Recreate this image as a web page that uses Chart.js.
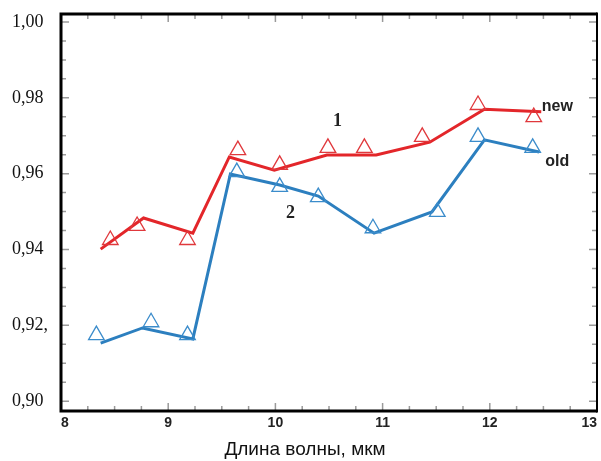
<!DOCTYPE html>
<html lang="ru">
<head>
  <meta charset="UTF-8">
  <title>Длина волны</title>
  <script src="https://cdn.jsdelivr.net/npm/chart.js"></script>
  <style>
    body { margin: 0; background: #fff; }
    canvas { display: block; }
  </style>
</head>
<body>
  <canvas id="chart" width="601" height="461"></canvas>
  <script>
    // данные
    const newLineX = [8.37, 8.77, 9.23, 9.57, 9.99, 10.48, 10.94, 11.44, 11.95, 12.48];
    const newLineY = [0.9401, 0.9483, 0.9443, 0.9644, 0.9609, 0.9649, 0.9649, 0.9683, 0.9770, 0.9763];
    const newMarkX = [8.46, 8.71, 9.18, 9.65, 10.04, 10.49, 10.83, 11.37, 11.89, 12.41];
    const newMarkY = [0.9425, 0.9462, 0.9425, 0.9662, 0.9623, 0.9668, 0.9668, 0.9697, 0.9781, 0.9749];
    const oldLineX = [8.37, 8.76, 9.23, 9.58, 10.04, 10.40, 10.92, 11.46, 11.95, 12.46];
    const oldLineY = [0.9153, 0.9193, 0.9164, 0.9599, 0.9570, 0.9541, 0.9443, 0.9499, 0.9689, 0.9657];
    const oldMarkX = [8.33, 8.84, 9.18, 9.64, 10.04, 10.40, 10.91, 11.51, 11.89, 12.40];
    const oldMarkY = [0.9174, 0.9208, 0.9174, 0.9604, 0.9565, 0.9538, 0.9456, 0.9499, 0.9697, 0.9668];
    const yTickValues = [0.90, 0.92, 0.94, 0.96, 0.98, 1.00];
    const yTickLabels = ['0,90', '0,92,', '0,94', '0,96', '0,98', '1,00'];
    const xTickLabels = ['8', '9', '10', '11', '12', '13'];
    const xTitle = 'Длина волны, мкм';

    const pts = (xs, ys) => xs.map((x, i) => ({ x: x, y: ys[i] }));

    const RED = '#e3262a';
    const BLUE = '#2c7fbf';

    // рамка, внутренние риски и подписи на поле графика
    const framePlugin = {
      id: 'frame',
      afterDraw(chart) {
        const c = chart.ctx;
        const a = chart.chartArea;
        const xs = chart.scales.x, ys = chart.scales.y;
        c.save();
        c.strokeStyle = '#9a9a9a';
        c.lineWidth = 1.5;
        for (let v = 8.25; v < 13; v += 0.25) {
          const px = xs.getPixelForValue(v);
          const len = Math.abs(v - Math.round(v)) < 1e-6 ? 8 : 5;
          c.beginPath();
          c.moveTo(px, a.bottom); c.lineTo(px, a.bottom - len);
          c.moveTo(px, a.top); c.lineTo(px, a.top + len);
          c.stroke();
        }
        for (let i = 0; i <= 20; i++) {
          const v = 0.90 + i * 0.005;
          const py = ys.getPixelForValue(v);
          const len = i % 4 === 0 ? 8 : 5;
          c.beginPath();
          c.moveTo(a.left, py); c.lineTo(a.left + len, py);
          c.moveTo(a.right, py); c.lineTo(a.right - len, py);
          c.stroke();
        }
        c.strokeStyle = '#000';
        c.lineWidth = 3;
        c.beginPath();
        c.moveTo(a.right, a.top); c.lineTo(a.left, a.top);
        c.lineTo(a.left, a.bottom); c.lineTo(a.right, a.bottom);
        c.stroke();
        c.lineWidth = 2;
        c.beginPath();
        c.moveTo(a.right, a.top - 1.5); c.lineTo(a.right, a.bottom + 1.5);
        c.stroke();

        c.fillStyle = '#222';
        c.textAlign = 'center';
        c.textBaseline = 'middle';
        c.font = 'bold 18px "Liberation Serif"';
        c.fillText('1', xs.getPixelForValue(10.58), ys.getPixelForValue(0.9739));
        c.fillText('2', xs.getPixelForValue(10.14), ys.getPixelForValue(0.9496));
        c.font = 'bold 16px "Liberation Sans"';
        c.fillText('new', xs.getPixelForValue(12.63), ys.getPixelForValue(0.9776));
        c.fillText('old', xs.getPixelForValue(12.63), ys.getPixelForValue(0.9633));

        // подпись оси X (смещена влево, как на оригинале)
        c.fillStyle = '#111';
        c.font = '19px "Liberation Sans"';
        c.fillText(xTitle, 305, 450);
        c.restore();
      }
    };

    new Chart(document.getElementById('chart'), {
      type: 'scatter',
      data: {
        datasets: [
          {
            data: pts(newMarkX, newMarkY), showLine: false,
            pointStyle: 'triangle', pointRadius: 9, borderWidth: 1.3,
            borderColor: '#e0383c', backgroundColor: 'rgba(255,255,255,0)'
          },
          {
            data: pts(oldMarkX, oldMarkY), showLine: false,
            pointStyle: 'triangle', pointRadius: 9, borderWidth: 1.3,
            borderColor: '#3b8ccb', backgroundColor: 'rgba(255,255,255,0)'
          },
          {
            data: pts(newLineX, newLineY), showLine: true,
            borderColor: RED, borderWidth: 3, pointRadius: 0, tension: 0
          },
          {
            data: pts(oldLineX, oldLineY), showLine: true,
            borderColor: BLUE, borderWidth: 3, pointRadius: 0, tension: 0
          }
        ]
      },
      options: {
        responsive: false,
        animation: false,
        layout: { autoPadding: false, padding: { top: 14, right: 3, left: 12, bottom: 0 } },
        plugins: { legend: { display: false }, tooltip: { enabled: false } },
        scales: {
          x: {
            type: 'linear', min: 8, max: 13,
            afterFit(s) { s.height = 50; },
            grid: { display: false, drawTicks: false },
            border: { display: false },
            ticks: {
              stepSize: 1, padding: 4, color: '#222', maxRotation: 0, align: 'inner',
              font: { family: 'Liberation Sans', size: 14, weight: 'bold' },
              callback: (v) => xTickLabels[Math.round(v) - 8]
            }
          },
          y: {
            min: 0.8974, max: 1.0021,
            afterFit(s) { s.width = 49; },
            afterBuildTicks(s) { s.ticks = yTickValues.map(v => ({ value: v })); },
            grid: { display: false, drawTicks: false },
            border: { display: false },
            ticks: {
              crossAlign: 'far', color: '#111',
              font: { family: 'Liberation Serif', size: 18 },
              callback: (v) => {
                const i = yTickValues.findIndex(t => Math.abs(t - v) < 1e-6);
                return i >= 0 ? yTickLabels[i] : '';
              }
            }
          }
        }
      },
      plugins: [framePlugin]
    });
  </script>
</body>
</html>
